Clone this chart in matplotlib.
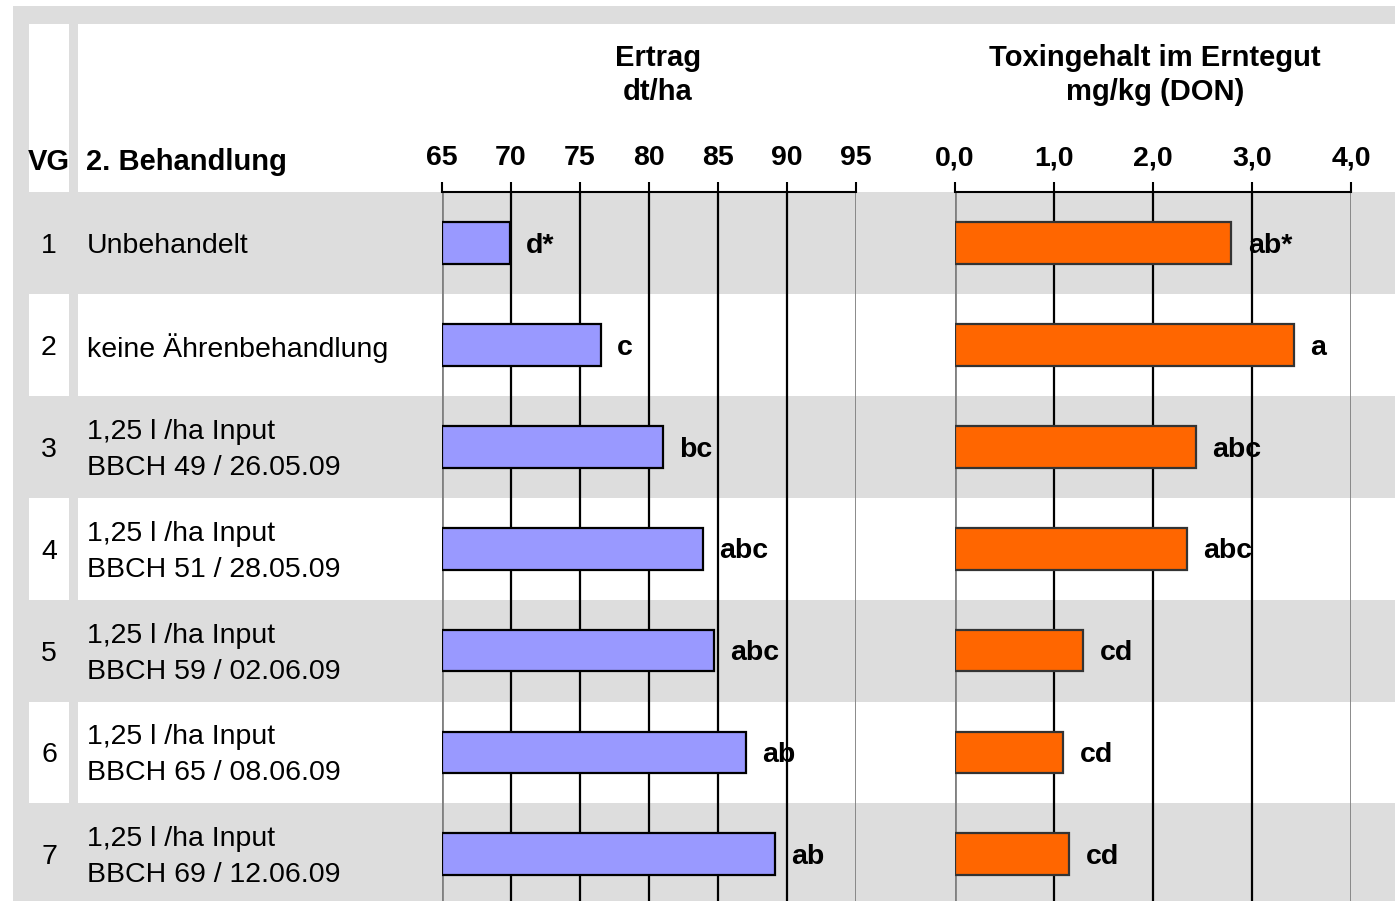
import numpy as np
import matplotlib.pyplot as plt
from matplotlib.patches import Rectangle

plt.rcParams['font.family'] = ['Liberation Sans', 'DejaVu Sans']

# data
vg = ["1", "2", "3", "4", "5", "6", "7"]
behandlung = ["Unbehandelt",
              "keine Ährenbehandlung",
              "1,25 l /ha Input\nBBCH 49 / 26.05.09",
              "1,25 l /ha Input\nBBCH 51 / 28.05.09",
              "1,25 l /ha Input\nBBCH 59 / 02.06.09",
              "1,25 l /ha Input\nBBCH 65 / 08.06.09",
              "1,25 l /ha Input\nBBCH 69 / 12.06.09"]
ertrag = [69.9, 76.5, 81.0, 83.9, 84.7, 87.0, 89.1]
ertrag_sig = ["d*", "c", "bc", "abc", "abc", "ab", "ab"]
don = [2.79, 3.42, 2.43, 2.34, 1.29, 1.09, 1.15]
don_sig = ["ab*", "a", "abc", "abc", "cd", "cd", "cd"]
ertrag_ticks = [65, 70, 75, 80, 85, 90, 95]
don_ticks = [0.0, 1.0, 2.0, 3.0, 4.0]

W, H = 1395, 901
GRAY = "#DDDDDD"
top = 192
rh = 101.9
n = len(vg)
fs = 20.5
fsh = 21

fig = plt.figure(figsize=(W / 100, H / 100), dpi=100)

# background "table" in pixel coordinates
bg = fig.add_axes([0, 0, 1, 1])
bg.set_xlim(0, W)
bg.set_ylim(H, 0)
bg.axis("off")
bg.add_patch(Rectangle((13, 6), W - 13, H - 6, color=GRAY, lw=0))
bg.add_patch(Rectangle((29, 24), 40, top - 24, color="white", lw=0))
bg.add_patch(Rectangle((78, 24), W - 78, top - 24, color="white", lw=0))
for i in range(n):
    if i % 2 == 1:
        y0 = top + i * rh
        bg.add_patch(Rectangle((29, y0), 40, rh, color="white", lw=0))
        bg.add_patch(Rectangle((78, y0), W - 78, rh, color="white", lw=0))

bg.text(49, 162, "VG", ha="center", va="center", fontsize=fsh, fontweight="bold")
bg.text(86, 162, "2. Behandlung", ha="left", va="center", fontsize=fsh, fontweight="bold")
bg.text(658, 75, "Ertrag\ndt/ha", ha="center", va="center", fontsize=fsh,
        fontweight="bold", linespacing=1.3)
bg.text(1155, 75, "Toxingehalt im Erntegut\nmg/kg (DON)", ha="center", va="center",
        fontsize=fsh, fontweight="bold", linespacing=1.3)

for i in range(n):
    yc = top + (i + 0.5) * rh + 3
    bg.text(49, yc, vg[i], ha="center", va="center", fontsize=fs)
    bg.text(87, yc, behandlung[i], ha="left", va="center", fontsize=fs, linespacing=1.5)


def bar_axes(x0, x1):
    ax = fig.add_axes([x0 / W, 0, (x1 - x0) / W, (H - top) / H])
    ax.patch.set_alpha(0)
    ax.set_ylim(n - 0.5 - (top + n * rh - H) / rh, -0.5)
    ax.set_yticks([])
    for s in ["left", "right", "bottom"]:
        ax.spines[s].set_visible(False)
    ax.spines["top"].set_linewidth(1.5)
    ax.xaxis.tick_top()
    ax.tick_params(axis="x", direction="out", length=7, width=1.5, pad=8)
    return ax


ypos = np.arange(n)

ax1 = bar_axes(442, 856)
ax1.set_xlim(65, 95)
ax1.set_xticks(ertrag_ticks, [str(t) for t in ertrag_ticks], fontsize=fs, fontweight="bold")
for t in ertrag_ticks:
    edge = t in (ertrag_ticks[0], ertrag_ticks[-1])
    ax1.axvline(t, color="#808080" if edge else "black", lw=2.0 if edge else 1.6, zorder=1)
ax1.barh(ypos, np.array(ertrag) - 65, left=65, height=0.41, color="#9999FF",
         edgecolor="black", lw=1.6, zorder=3)
for i in range(n):
    ax1.annotate(ertrag_sig[i], (ertrag[i], i), xytext=(12, -2), textcoords="offset points",
                 ha="left", va="center", fontsize=fs, fontweight="bold", zorder=4)

ax2 = bar_axes(955, 1351)
ax2.set_xlim(0, 4)
ax2.set_xticks(don_ticks, [f"{t:.1f}".replace(".", ",") for t in don_ticks],
               fontsize=fs, fontweight="bold")
for t in don_ticks:
    edge = t in (don_ticks[0], don_ticks[-1])
    ax2.axvline(t, color="#808080" if edge else "black", lw=2.0 if edge else 1.6, zorder=1)
ax2.barh(ypos, don, height=0.41, color="#FF6600", edgecolor="#333333", lw=1.6, zorder=3)
for i in range(n):
    ax2.annotate(don_sig[i], (don[i], i), xytext=(12, -2), textcoords="offset points",
                 ha="left", va="center", fontsize=fs, fontweight="bold", zorder=4)

fig.savefig("out.png", dpi=100)
